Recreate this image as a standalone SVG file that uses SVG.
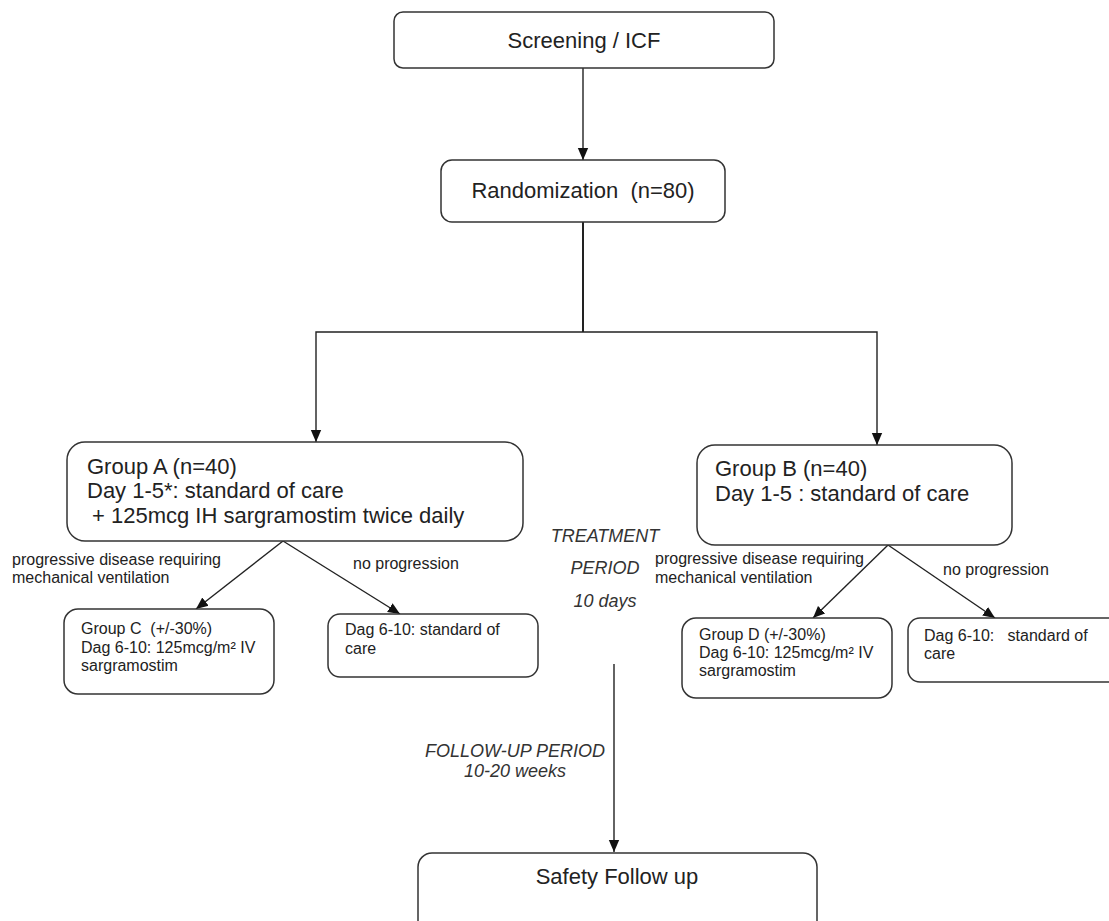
<svg xmlns="http://www.w3.org/2000/svg" width="1109" height="921" viewBox="0 0 1109 921">
<defs>
<style>
.box{fill:#fff;stroke:#333;stroke-width:1.5}
.t{font-family:"Liberation Sans",Arial,sans-serif;fill:#222}
.big{font-size:22px}
.sm{font-size:16px}
.it{font-size:18px;font-style:italic;fill:#333}
.ln{fill:none;stroke:#222;stroke-width:1.4}
</style>
<marker id="ah" markerUnits="userSpaceOnUse" markerWidth="12" markerHeight="12" viewBox="0 0 12 12" refX="12" refY="6" orient="auto">
<path d="M0,0.8 L12,6 L0,11.2 Z" fill="#111"/>
</marker>
</defs>
<rect width="1109" height="921" fill="#fff"/>

<g id="connectors">
<line class="ln" x1="583" y1="68" x2="583" y2="160" marker-end="url(#ah)"/>
<polyline class="ln" points="583,222 583,332" style="stroke-width:2"/>
<polyline class="ln" points="583,332 316,332 316,442" marker-end="url(#ah)"/>
<polyline class="ln" points="583,332 877,332 877,445" marker-end="url(#ah)"/>
<line class="ln" x1="283" y1="541" x2="196" y2="609" marker-end="url(#ah)"/>
<line class="ln" x1="283" y1="541" x2="400" y2="614" marker-end="url(#ah)"/>
<line class="ln" x1="888" y1="545" x2="813" y2="618" marker-end="url(#ah)"/>
<line class="ln" x1="888" y1="545" x2="995" y2="618" marker-end="url(#ah)"/>
<line class="ln" x1="614" y1="664" x2="614" y2="852" marker-end="url(#ah)"/>
</g>

<g id="screening">
<rect class="box" x="394" y="12" width="380" height="56" rx="9"/>
<text class="t big" x="584" y="48" text-anchor="middle">Screening / ICF</text>
</g>

<g id="randomization">
<rect class="box" x="441" y="160" width="284" height="62" rx="11"/>
<text class="t big" x="583" y="198" text-anchor="middle">Randomization&#160; (n=80)</text>
</g>

<g id="groupA">
<rect class="box" x="67" y="442" width="456" height="99" rx="18"/>
<text class="t big" x="87" y="474">Group A (n=40)</text>
<text class="t big" x="87" y="498">Day 1-5*: standard of care</text>
<text class="t big" x="92" y="523">+ 125mcg IH sargramostim twice daily</text>
</g>

<g id="groupB">
<rect class="box" x="697" y="445" width="315" height="100" rx="18"/>
<text class="t big" x="715" y="476">Group B (n=40)</text>
<text class="t big" x="715" y="501">Day 1-5 : standard of care</text>
</g>

<g id="labelsA">
<text class="t sm" x="12" y="565">progressive disease requiring</text>
<text class="t sm" x="12" y="583">mechanical ventilation</text>
<text class="t sm" x="353" y="569">no progression</text>
</g>

<g id="labelsB">
<text class="t sm" x="655" y="564">progressive disease requiring</text>
<text class="t sm" x="655" y="583">mechanical ventilation</text>
<text class="t sm" x="943" y="575">no progression</text>
</g>

<g id="treatment">
<text class="t it" x="605" y="542" text-anchor="middle">TREATMENT</text>
<text class="t it" x="605" y="574" text-anchor="middle">PERIOD</text>
<text class="t it" x="605" y="607" text-anchor="middle">10 days</text>
</g>

<g id="groupC">
<rect class="box" x="64" y="609" width="210" height="85" rx="14"/>
<text class="t sm" x="81" y="634">Group C&#160; (+/-30%)</text>
<text class="t sm" x="81" y="653">Dag 6-10: 125mcg/m² IV</text>
<text class="t sm" x="81" y="671">sargramostim</text>
</g>

<g id="socA">
<rect class="box" x="328" y="614" width="210" height="63" rx="12"/>
<text class="t sm" x="345" y="635">Dag 6-10: standard of</text>
<text class="t sm" x="345" y="654">care</text>
</g>

<g id="groupD">
<rect class="box" x="682" y="618" width="210" height="80" rx="14"/>
<text class="t sm" x="699" y="640">Group D (+/-30%)</text>
<text class="t sm" x="699" y="658">Dag 6-10: 125mcg/m² IV</text>
<text class="t sm" x="699" y="676">sargramostim</text>
</g>

<g id="socB">
<rect class="box" x="908" y="618" width="220" height="64" rx="12"/>
<text class="t sm" x="924" y="641">Dag 6-10:&#160;&#160; standard of</text>
<text class="t sm" x="924" y="659">care</text>
</g>

<g id="followup">
<text class="t it" x="515" y="757" text-anchor="middle">FOLLOW-UP PERIOD</text>
<text class="t it" x="515" y="777" text-anchor="middle">10-20 weeks</text>
</g>

<g id="safety">
<rect class="box" x="418" y="853" width="399" height="90" rx="14"/>
<text class="t big" x="617" y="884" text-anchor="middle">Safety Follow up</text>
</g>
</svg>
